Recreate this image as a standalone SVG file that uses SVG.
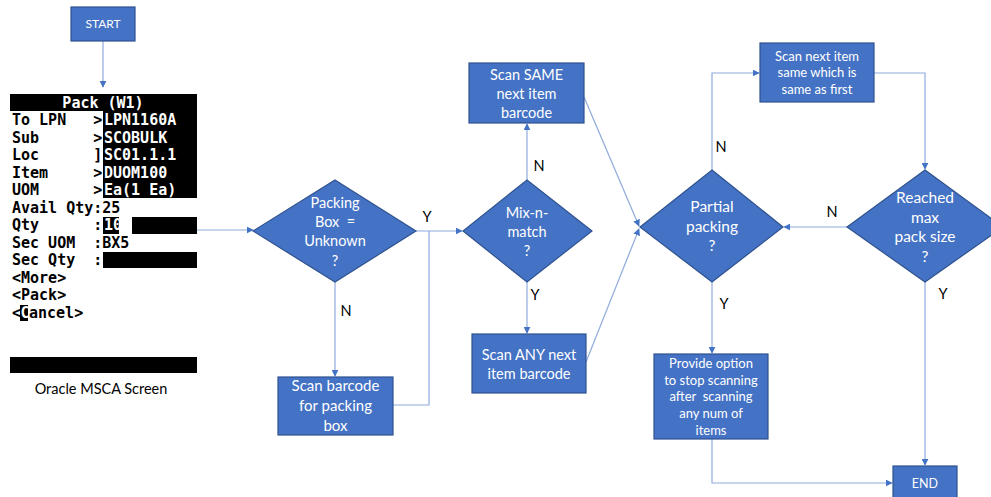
<svg xmlns="http://www.w3.org/2000/svg" width="991" height="497" viewBox="0 0 991 497">
<style>
.box{fill:#4472C4;stroke:#2F528F;stroke-width:1.2}
.t{font-family:Lato,"Open Sans",sans-serif;fill:#ffffff;text-anchor:middle}
.lbl{font-family:Lato,"Open Sans",sans-serif;fill:#000000;font-size:14.5px;text-anchor:middle}
.c{fill:none;stroke:#8FAADC;stroke-width:1.2}
.m{font-family:"DejaVu Sans Mono",monospace;font-weight:bold;font-size:15px;white-space:pre}
.mw{fill:#ffffff}
.mb{fill:#000000}
</style>
<defs>
<marker id="ah" viewBox="0 0 10 10" refX="9" refY="5" markerWidth="7" markerHeight="7" orient="auto" markerUnits="userSpaceOnUse">
<path d="M0,0 L10,5 L0,10 z" fill="#4472C4"/>
</marker>
</defs>
<rect width="991" height="497" fill="#ffffff"/>

<g id="connectors">
<path class="c" d="M103,41 V87" marker-end="url(#ah)"/>
<path class="c" d="M197,230 H253" marker-end="url(#ah)"/>
<path class="c" d="M416,231 H462" marker-end="url(#ah)"/>
<path class="c" d="M393,405 H429 V231"/>
<path class="c" d="M335,282 V376" marker-end="url(#ah)"/>
<path class="c" d="M527,180 V124" marker-end="url(#ah)"/>
<path class="c" d="M527,282 V333" marker-end="url(#ah)"/>
<path class="c" d="M584,97 L639,226" marker-end="url(#ah)"/>
<path class="c" d="M586,362 L639,229" marker-end="url(#ah)"/>
<path class="c" d="M712,170 V73 H759" marker-end="url(#ah)"/>
<path class="c" d="M874,73 H925 V169" marker-end="url(#ah)"/>
<path class="c" d="M847,227 H784" marker-end="url(#ah)"/>
<path class="c" d="M925,282 V465" marker-end="url(#ah)"/>
<path class="c" d="M712,282 V353" marker-end="url(#ah)"/>
<path class="c" d="M712,439 V483 H892" marker-end="url(#ah)"/>
</g>

<g id="start">
<rect class="box" x="71" y="7" width="64" height="34"/>
<text class="t" x="103" y="28" font-size="12">START</text>
</g>

<g id="msca-screen">
<rect class="mb" x="10" y="94" width="187" height="17"/>
<rect class="mb" x="103" y="94" width="94" height="104"/>
<rect class="mb" x="103" y="217" width="16" height="17"/>
<rect class="mb" x="132" y="217" width="65" height="17"/>
<rect class="mb" x="103" y="252" width="94" height="16"/>
<rect class="mb" x="20" y="305" width="8" height="16"/>
<rect class="mb" x="10" y="357" width="187" height="16"/>
<text class="m mw" x="103" y="108" text-anchor="middle">Pack (W1)</text>
<text class="m mb" x="12" y="125" xml:space="preserve">To LPN   &gt;</text>
<text class="m mb" x="12" y="143" xml:space="preserve">Sub      &gt;</text>
<text class="m mb" x="12" y="160" xml:space="preserve">Loc      ]</text>
<text class="m mb" x="12" y="178" xml:space="preserve">Item     &gt;</text>
<text class="m mb" x="12" y="195" xml:space="preserve">UOM      &gt;</text>
<text class="m mw" x="104" y="125">LPN1160A</text>
<text class="m mw" x="104" y="143">SCOBULK</text>
<text class="m mw" x="104" y="160">SC01.1.1</text>
<text class="m mw" x="104" y="178">DUOM100</text>
<text class="m mw" x="104" y="195">Ea(1 Ea)</text>
<text class="m mb" x="12" y="213">Avail Qty:25</text>
<text class="m mb" x="12" y="230" xml:space="preserve">Qty      :</text>
<text class="m mw" x="104" y="230">10</text>
<text class="m mb" x="12" y="248" xml:space="preserve">Sec UOM  :BX5</text>
<text class="m mb" x="12" y="265" xml:space="preserve">Sec Qty  :</text>
<text class="m mb" x="12" y="283">&lt;More&gt;</text>
<text class="m mb" x="12" y="300">&lt;Pack&gt;</text>
<text class="m mb" x="12" y="318">&lt;</text>
<text class="m mw" x="20.5" y="318">C</text>
<text class="m mb" x="29" y="318">ancel&gt;</text>
<text class="lbl" x="101" y="394">Oracle MSCA Screen</text>
</g>

<g id="packing-box-unknown">
<polygon class="box" points="335,180 416,231 335,282 253,231"/>
<text class="t" font-size="14.5" xml:space="preserve"><tspan x="335" y="208">Packing</tspan><tspan x="335" y="227">Box  =</tspan><tspan x="335" y="246">Unknown</tspan><tspan x="335" y="266">?</tspan></text>
</g>
<text class="lbl" x="427" y="222">Y</text>
<text class="lbl" x="346" y="316">N</text>

<g id="scan-barcode-box">
<rect class="box" x="278" y="377" width="115" height="58"/>
<text class="t" font-size="15"><tspan x="335.5" y="391">Scan barcode</tspan><tspan x="335.5" y="411">for packing</tspan><tspan x="335.5" y="431">box</tspan></text>
</g>

<g id="mix-n-match">
<polygon class="box" points="527,180 592,231 527,282 463,231"/>
<text class="t" font-size="14.5"><tspan x="527" y="218">Mix-n-</tspan><tspan x="527" y="237">match</tspan><tspan x="527" y="256">?</tspan></text>
</g>
<text class="lbl" x="539" y="171">N</text>
<text class="lbl" x="535" y="300">Y</text>

<g id="scan-same">
<rect class="box" x="469" y="63" width="115" height="60"/>
<text class="t" font-size="14.5"><tspan x="526.5" y="80">Scan SAME</tspan><tspan x="526.5" y="99">next item</tspan><tspan x="526.5" y="118">barcode</tspan></text>
</g>

<g id="scan-any">
<rect class="box" x="472" y="334" width="114" height="59"/>
<text class="t" font-size="14.5"><tspan x="529" y="360">Scan ANY next</tspan><tspan x="529" y="379">item barcode</tspan></text>
</g>

<g id="partial-packing">
<polygon class="box" points="712,170 783,227 712,282 640,227"/>
<text class="t" font-size="15.5"><tspan x="712" y="212">Partial</tspan><tspan x="712" y="232">packing</tspan><tspan x="712" y="251">?</tspan></text>
</g>
<text class="lbl" x="721" y="152">N</text>
<text class="lbl" x="724" y="309">Y</text>

<g id="scan-next-same">
<rect class="box" x="760" y="43" width="114" height="59"/>
<text class="t" font-size="13"><tspan x="817" y="61">Scan next item</tspan><tspan x="817" y="77">same which is</tspan><tspan x="817" y="94">same as first</tspan></text>
</g>

<g id="reached-max">
<polygon class="box" points="925,170 1003,227 925,282 847,227"/>
<text class="t" font-size="15.5"><tspan x="925" y="203">Reached</tspan><tspan x="925" y="223">max</tspan><tspan x="925" y="242">pack size</tspan><tspan x="925" y="262">?</tspan></text>
</g>
<text class="lbl" x="832" y="217">N</text>
<text class="lbl" x="943" y="299">Y</text>

<g id="provide-option">
<rect class="box" x="654" y="354" width="114" height="85"/>
<text class="t" font-size="13" xml:space="preserve"><tspan x="711" y="368">Provide option</tspan><tspan x="711" y="385">to stop scanning</tspan><tspan x="711" y="401">after  scanning</tspan><tspan x="711" y="418">any num of</tspan><tspan x="711" y="435">items</tspan></text>
</g>

<g id="end">
<rect class="box" x="893" y="466" width="64" height="36"/>
<text class="t" x="925" y="488" font-size="12.5">END</text>
</g>
</svg>
